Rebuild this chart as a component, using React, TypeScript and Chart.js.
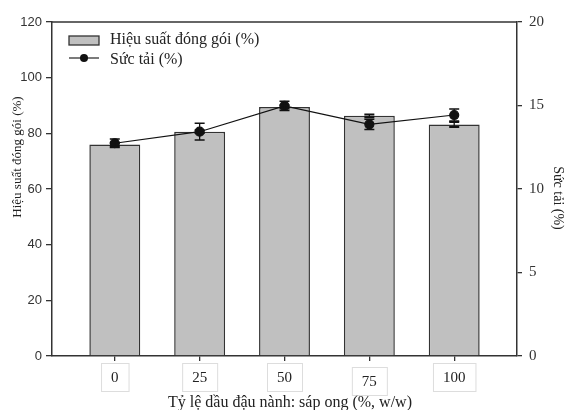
import React, { useEffect, useRef } from "react";
import { Chart, registerables } from "chart.js";

Chart.register(...registerables);

const categories = [0, 25, 50, 75, 100];
const efficiency = [76.0, 80.6, 89.5, 86.3, 83.2];
const efficiencyErr = [0.6, 0.5, 0.6, 0.5, 0.9];
const loading = [12.74, 13.43, 14.98, 13.87, 14.43];
const loadingErr = [0.26, 0.5, 0.28, 0.3, 0.36];
const leftTicks = [0, 20, 40, 60, 80, 100, 120];
const rightTicks = [0, 5, 10, 15, 20];

const SERIF = "'Liberation Serif', 'DejaVu Serif', serif";
const SANS = "'Liberation Sans', Arial, sans-serif";
const AXIS = "#333333";

const overlayPlugin = {
  id: "overlay",
  afterDatasetsDraw(chart: any) {
    const ctx = chart.ctx;
    const yL = chart.scales.y;
    const yR = chart.scales.y1;
    const drawErr = (meta: any, vals: number[], errs: number[], scale: any, lw: number) => {
      meta.data.forEach((el: any, i: number) => {
        const x = el.x;
        const t = scale.getPixelForValue(vals[i] + errs[i]);
        const b = scale.getPixelForValue(vals[i] - errs[i]);
        ctx.save();
        ctx.strokeStyle = "#111";
        ctx.lineWidth = 1.3;
        ctx.beginPath();
        ctx.moveTo(x, t);
        ctx.lineTo(x, b);
        ctx.stroke();
        ctx.lineWidth = lw;
        ctx.beginPath();
        ctx.moveTo(x - 5, t);
        ctx.lineTo(x + 5, t);
        ctx.moveTo(x - 5, b);
        ctx.lineTo(x + 5, b);
        ctx.stroke();
        ctx.restore();
      });
    };
    drawErr(chart.getDatasetMeta(1), efficiency, efficiencyErr, yL, 2);
    drawErr(chart.getDatasetMeta(0), loading, loadingErr, yR, 1.5);
  },
  afterDraw(chart: any) {
    const ctx = chart.ctx;
    const a = chart.chartArea;
    const xs = chart.scales.x;
    ctx.save();
    // top frame line
    ctx.strokeStyle = AXIS;
    ctx.lineWidth = 1.5;
    ctx.beginPath();
    ctx.moveTo(a.left, a.top);
    ctx.lineTo(a.right, a.top);
    ctx.stroke();

    // legend
    ctx.fillStyle = "#c0c0c0";
    ctx.strokeStyle = AXIS;
    ctx.lineWidth = 1.3;
    ctx.fillRect(69, 36, 30, 9);
    ctx.strokeRect(69, 36, 30, 9);
    ctx.beginPath();
    ctx.moveTo(69, 58);
    ctx.lineTo(99, 58);
    ctx.stroke();
    ctx.fillStyle = "#111";
    ctx.beginPath();
    ctx.arc(84, 58, 4, 0, Math.PI * 2);
    ctx.fill();
    ctx.font = `16px ${SERIF}`;
    ctx.fillStyle = "#222";
    ctx.textAlign = "left";
    ctx.textBaseline = "middle";
    ctx.fillText("Hiệu suất đóng gói (%)", 110, 40);
    ctx.fillText("Sức tải (%)", 110, 60);

    // x tick label boxes
    const nudge = [0, 0, 0, 4, 0];
    ctx.font = `15px ${SERIF}`;
    categories.forEach((c, i) => {
      const x = xs.getPixelForValue(c);
      const label = String(c);
      const w = ctx.measureText(label).width + 20;
      const top = 363 + nudge[i];
      ctx.fillStyle = "#ffffff";
      ctx.fillRect(x - w / 2, top, w, 28);
      ctx.strokeStyle = "#dddddd";
      ctx.lineWidth = 1;
      ctx.strokeRect(x - w / 2 + 0.5, top + 0.5, w, 28);
      ctx.fillStyle = "#222";
      ctx.textAlign = "center";
      ctx.textBaseline = "middle";
      ctx.fillText(label, x, top + 15);
    });

    // axis titles
    ctx.fillStyle = "#222";
    ctx.font = `16px ${SERIF}`;
    ctx.textAlign = "center";
    ctx.textBaseline = "middle";
    ctx.fillText("Tỷ lệ dầu đậu nành: sáp ong (%, w/w)", 290, 403);

    ctx.save();
    ctx.translate(18, 157);
    ctx.rotate(-Math.PI / 2);
    ctx.font = `13px ${SERIF}`;
    ctx.fillText("Hiệu suất đóng gói (%)", 0, 0);
    ctx.restore();

    ctx.save();
    ctx.translate(558, 198);
    ctx.rotate(Math.PI / 2);
    ctx.font = `14px ${SERIF}`;
    ctx.fillText("Sức tải (%)", 0, 0);
    ctx.restore();

    ctx.restore();
  },
};

export default function App() {
  const ref = useRef<HTMLCanvasElement | null>(null);
  useEffect(() => {
    if (!ref.current) return;
    const chart = new Chart(ref.current, {
      type: "bar",
      data: {
        datasets: [
          {
            type: "line",
            label: "Sức tải (%)",
            data: categories.map((c, i) => ({ x: c, y: loading[i] })),
            yAxisID: "y1",
            borderColor: "#111",
            borderWidth: 1.2,
            pointRadius: 4.5,
            pointBackgroundColor: "#111",
            pointBorderColor: "#111",
            tension: 0,
            order: 0,
          } as any,
          {
            type: "bar",
            label: "Hiệu suất đóng gói (%)",
            data: categories.map((c, i) => ({ x: c, y: efficiency[i] })),
            yAxisID: "y",
            backgroundColor: "#c0c0c0",
            borderColor: AXIS,
            borderWidth: 1.5,
            categoryPercentage: 1,
            barPercentage: 0.6,
            order: 1,
          } as any,
        ],
      },
      options: {
        responsive: false,
        animation: false,
        layout: { padding: { top: 22, left: 0, right: 0, bottom: 0 } },
        plugins: { legend: { display: false }, tooltip: { enabled: false } },
        scales: {
          x: {
            type: "linear",
            min: -18.5,
            max: 118.5,
            offset: false,
            afterBuildTicks: (s: any) => {
              s.ticks = categories.map((v) => ({ value: v }));
            },
            afterFit: (s: any) => {
              s.height = 54;
            },
            ticks: { color: "rgba(0,0,0,0)", font: { size: 14, family: SERIF } },
            grid: { offset: false, drawOnChartArea: false, drawTicks: true, tickLength: 5, color: AXIS, lineWidth: 1.3 },
            border: { display: true, color: AXIS, width: 1.5 },
          },
          y: {
            type: "linear",
            position: "left",
            min: 0,
            max: 120,
            afterBuildTicks: (s: any) => {
              s.ticks = leftTicks.map((v) => ({ value: v }));
            },
            afterFit: (s: any) => {
              s.width = 52;
            },
            ticks: { color: "#333", padding: 4, font: { size: 13, family: SANS } },
            grid: { drawOnChartArea: false, drawTicks: true, tickLength: 6, color: AXIS, lineWidth: 1.3 },
            border: { display: true, color: AXIS, width: 1.5 },
          },
          y1: {
            type: "linear",
            position: "right",
            min: 0,
            max: 20,
            afterBuildTicks: (s: any) => {
              s.ticks = rightTicks.map((v) => ({ value: v }));
            },
            afterFit: (s: any) => {
              s.width = 54;
            },
            ticks: { color: "#333", padding: 7, font: { size: 15, family: SERIF } },
            grid: { drawOnChartArea: false, drawTicks: true, tickLength: 5, color: AXIS, lineWidth: 1.3 },
            border: { display: true, color: AXIS, width: 1.5 },
          },
        },
      },
      plugins: [overlayPlugin],
    });
    return () => chart.destroy();
  }, []);
  return (
    <div style={{ position: "absolute", left: 0, top: 0, width: 571, height: 410, background: "#fff" }}>
      <canvas ref={ref} width={571} height={410} style={{ display: "block" }} />
    </div>
  );
}
